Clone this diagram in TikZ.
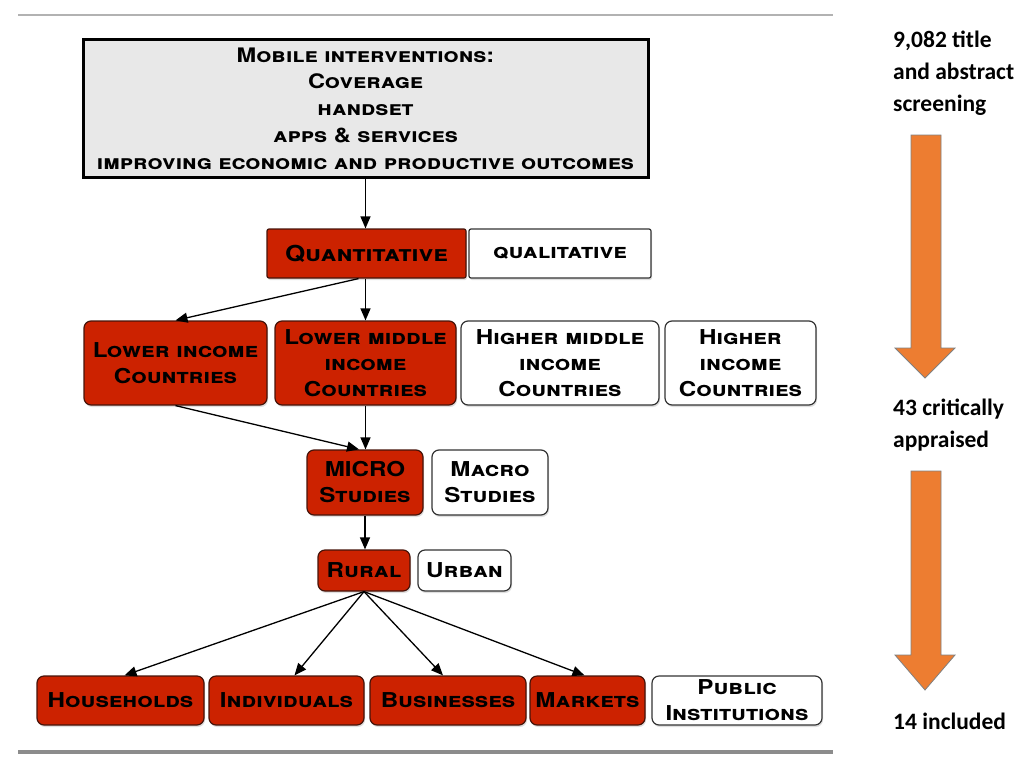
\documentclass[tikz,border=0pt]{standalone}
\usepackage{fontspec}
\usetikzlibrary{arrows.meta,shadows}
\newfontfamily\boxfont[FakeStretch=1.18]{TeX Gyre Heros}
\newfontfamily\notefont{Carlito}
\definecolor{boxred}{RGB}{204,34,0}
\definecolor{boxline}{RGB}{70,20,10}
\definecolor{topgrey}{RGB}{232,232,232}
\definecolor{blockorange}{RGB}{237,125,49}

\begin{document}
\begin{tikzpicture}[x=1pt,y=-1pt,
    box/.style={draw=black!80,line width=1.2pt,rounded corners=7pt,align=center,inner sep=0pt,
        font=\boxfont\bfseries\scshape\fontsize{20.5}{26}\selectfont,
        drop shadow={shadow xshift=1pt,shadow yshift=-2pt,opacity=0.25}},
    chosen/.style={box,fill=boxred,draw=boxline},
    other/.style={box,fill=white},
    link/.style={-{Triangle[length=12pt,width=10pt]},line width=1.3pt},
    note/.style={anchor=north west,align=left,inner sep=0pt,
        font=\notefont\bfseries\fontsize{23.5}{32}\selectfont},
    block/.style={fill=blockorange,draw=gray,line width=0.8pt}]
\useasboundingbox (0,0) rectangle (1024,768);

\draw[black!30,line width=2pt] (18,15) -- (833,15);
\draw[black!45,line width=4pt] (18,752) -- (833,752);

\node[box,rounded corners=0pt,fill=topgrey,draw=black,line width=3pt,
    font=\boxfont\bfseries\scshape\fontsize{20}{26.75}\selectfont,
    minimum width=565pt,minimum height=137pt] (mobile) at (365.5,108.5)
    {Mobile interventions:\\Coverage\\handset\\apps \& services\\improving economic and productive outcomes};

\node[chosen,rounded corners=2pt,font=\boxfont\bfseries\scshape\fontsize{22}{26}\selectfont,
    minimum width=199pt,minimum height=49pt] (quant) at (366.5,253.5) {Quantitative};
\node[other,rounded corners=2pt,minimum width=182pt,minimum height=49pt] (qual) at (560,253.5) {qualitative};

\node[chosen,minimum width=183pt,minimum height=84pt] (lic) at (175.5,363) {Lower income\\Countries};
\node[chosen,minimum width=181pt,minimum height=84pt] (lmic) at (365.5,363) {Lower middle\\income\\Countries};
\node[other,minimum width=198pt,minimum height=84pt] (hmic) at (560,363) {Higher middle\\income\\Countries};
\node[other,minimum width=151pt,minimum height=84pt] (hic) at (740.5,363) {Higher\\income\\Countries};

\node[chosen,minimum width=116pt,minimum height=65pt] (micro) at (365,482.5) {MICRO\\Studies};
\node[other,minimum width=116pt,minimum height=65pt] (macro) at (490,482.5) {Macro\\Studies};

\node[chosen,minimum width=92pt,minimum height=41pt] (rural) at (364,570.5) {Rural};
\node[other,minimum width=93pt,minimum height=41pt] (urban) at (464.5,570.5) {Urban};

\node[chosen,minimum width=167pt,minimum height=49pt] (house) at (120.5,700.5) {Households};
\node[chosen,minimum width=155pt,minimum height=49pt] (indiv) at (286.5,700.5) {Individuals};
\node[chosen,minimum width=156pt,minimum height=49pt] (busi) at (448,700.5) {Businesses};
\node[chosen,minimum width=115pt,minimum height=49pt] (market) at (587.5,700.5) {Markets};
\node[other,minimum width=170pt,minimum height=49pt] (public) at (737,700.5) {Public\\Institutions};

\draw[link] (mobile.south) -- (mobile.south |- quant.north);
\draw[link] ([xshift=-8pt]quant.south) -- (lic.north);
\draw[link] (lmic.north |- quant.south) -- (lmic.north);
\draw[link] (lic.south) -- ([xshift=-6pt]micro.north);
\draw[link] (lmic.south) -- (lmic.south |- micro.north);
\draw[link] (micro.south) -- (micro.south |- rural.north);
\draw[link] (rural.south) -- ([xshift=4pt]house.north);
\draw[link] (rural.south) -- ([xshift=8pt]indiv.north);
\draw[link] (rural.south) -- ([xshift=-5pt]busi.north);
\draw[link] (rural.south) -- ([xshift=-3pt]market.north);

\node[note] (screened) at (893,31) {9,082 title\\and abstract\\screening};
\node[note] (appraised) at (893,399) {43 critically\\appraised};
\node[note] (included) at (893,713) {14 included};

\draw[block] (911,135) -- (941,135) -- (941,348) -- (955,348) -- (925,378)
    -- (895,348) -- (911,348) -- cycle;
\draw[block] (911,471) -- (941,471) -- (941,655) -- (955,655) -- (925,690)
    -- (895,655) -- (911,655) -- cycle;
\end{tikzpicture}
\end{document}
